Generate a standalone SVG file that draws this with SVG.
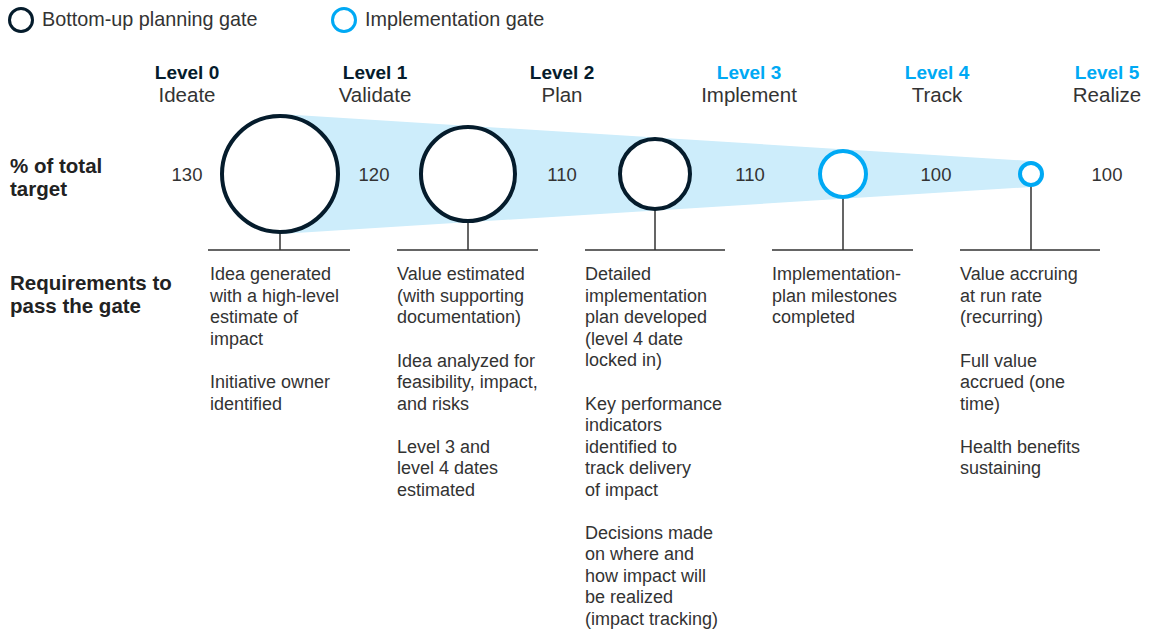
<svg xmlns="http://www.w3.org/2000/svg" width="1151" height="631" viewBox="0 0 1151 631">
<style>
text{font-family:"Liberation Sans",Arial,sans-serif;fill:#333}
.lg{font-size:19.8px}
.lvl{font-size:19px;font-weight:bold;text-anchor:middle}
.dk{fill:#051c2c}
.bl{fill:#00a9f4}
.st{font-size:20.5px;text-anchor:middle}
.num{font-size:18.5px;text-anchor:middle}
.row{font-size:20.5px;font-weight:bold;fill:#222}
.req{font-size:18px}
.gd{fill:#fff;stroke:#051c2c;stroke-width:4}
.gb{fill:#fff;stroke:#00a9f4;stroke-width:4}
.ln{stroke:#333;stroke-width:1.5;fill:none}
</style>
<rect width="1151" height="631" fill="#fff"/>
<g id="legend">
<circle cx="21" cy="20" r="11.5" fill="none" stroke="#051c2c" stroke-width="3"/>
<text class="lg" x="42" y="26">Bottom-up planning gate</text>
<circle cx="344" cy="20" r="11.5" fill="none" stroke="#00a9f4" stroke-width="3"/>
<text class="lg" x="365" y="26">Implementation gate</text>
</g>
<g id="levels">
<text class="lvl dk" x="187" y="79">Level 0</text><text class="st" x="187" y="102">Ideate</text>
<text class="lvl dk" x="375" y="79">Level 1</text><text class="st" x="375" y="102">Validate</text>
<text class="lvl dk" x="562" y="79">Level 2</text><text class="st" x="562" y="102">Plan</text>
<text class="lvl bl" x="749" y="79">Level 3</text><text class="st" x="749" y="102">Implement</text>
<text class="lvl bl" x="937" y="79">Level 4</text><text class="st" x="937" y="102">Track</text>
<text class="lvl bl" x="1107" y="79">Level 5</text><text class="st" x="1107" y="102">Realize</text>
</g>
<g id="row-labels">
<text class="row" x="10" y="173">% of total<tspan x="10" y="196">target</tspan></text>
<text class="row" x="10" y="290">Requirements to<tspan x="10" y="313">pass the gate</tspan></text>
</g>
<g id="band">
<polygon points="280,114 1031,161 1031,187 280,234" fill="#cdedfb"/>
</g>
<g id="numbers">
<text class="num" x="187" y="181">130</text>
<text class="num" x="374" y="181">120</text>
<text class="num" x="562" y="181">110</text>
<text class="num" x="750" y="181">110</text>
<text class="num" x="936" y="181">100</text>
<text class="num" x="1107" y="181">100</text>
</g>
<g id="connectors">
<path class="ln" d="M280 232V250M208 250H350"/>
<path class="ln" d="M468 221V250M397 250H538"/>
<path class="ln" d="M655 209V250M585 250H725"/>
<path class="ln" d="M843 197V250M772 250H913"/>
<path class="ln" d="M1031 185V250M960 250H1100"/>
</g>
<g id="gate0"><circle class="gd" cx="280" cy="174" r="58"/></g>
<g id="gate1"><circle class="gd" cx="468" cy="174" r="47"/></g>
<g id="gate2"><circle class="gd" cx="655" cy="174" r="35"/></g>
<g id="gate3"><circle class="gb" cx="843" cy="174" r="23"/></g>
<g id="gate4"><circle class="gb" cx="1031" cy="174" r="11"/></g>
<g id="req0"><text class="req" x="210" y="280">Idea generated<tspan x="210" y="301.5">with a high-level</tspan><tspan x="210" y="323">estimate of</tspan><tspan x="210" y="344.5">impact</tspan><tspan x="210" y="388">Initiative owner</tspan><tspan x="210" y="409.5">identified</tspan></text></g>
<g id="req1"><text class="req" x="397" y="280">Value estimated<tspan x="397" y="301.5">(with supporting</tspan><tspan x="397" y="323">documentation)</tspan><tspan x="397" y="366.5">Idea analyzed for</tspan><tspan x="397" y="388">feasibility, impact,</tspan><tspan x="397" y="409.5">and risks</tspan><tspan x="397" y="452.5">Level 3 and</tspan><tspan x="397" y="474">level 4 dates</tspan><tspan x="397" y="495.5">estimated</tspan></text></g>
<g id="req2"><text class="req" x="585" y="280">Detailed<tspan x="585" y="301.5">implementation</tspan><tspan x="585" y="323">plan developed</tspan><tspan x="585" y="344.5">(level 4 date</tspan><tspan x="585" y="366">locked in)</tspan><tspan x="585" y="409.5">Key performance</tspan><tspan x="585" y="431">indicators</tspan><tspan x="585" y="452.5">identified to</tspan><tspan x="585" y="474">track delivery</tspan><tspan x="585" y="495.5">of impact</tspan><tspan x="585" y="538.5">Decisions made</tspan><tspan x="585" y="560">on where and</tspan><tspan x="585" y="581.5">how impact will</tspan><tspan x="585" y="603">be realized</tspan><tspan x="585" y="624.5">(impact tracking)</tspan></text></g>
<g id="req3"><text class="req" x="772" y="280">Implementation-<tspan x="772" y="301.5">plan milestones</tspan><tspan x="772" y="323">completed</tspan></text></g>
<g id="req4"><text class="req" x="960" y="280">Value accruing<tspan x="960" y="301.5">at run rate</tspan><tspan x="960" y="323">(recurring)</tspan><tspan x="960" y="366.5">Full value</tspan><tspan x="960" y="388">accrued (one</tspan><tspan x="960" y="409.5">time)</tspan><tspan x="960" y="452.5">Health benefits</tspan><tspan x="960" y="474">sustaining</tspan></text></g>
</svg>
